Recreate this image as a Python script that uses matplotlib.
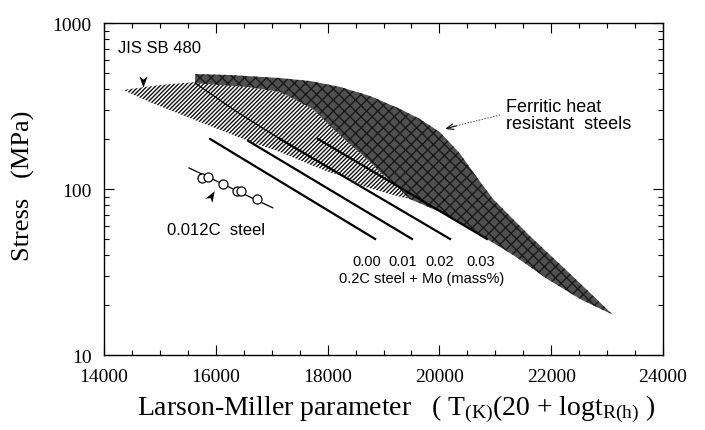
import numpy as np
import matplotlib
matplotlib.use('Agg')
import matplotlib.pyplot as plt
from matplotlib.markers import MarkerStyle
from matplotlib.path import Path
from matplotlib.transforms import Affine2D
from matplotlib.ticker import MultipleLocator, LogLocator, NullFormatter, FixedLocator, FixedFormatter

plt.rcParams['font.family'] = 'Liberation Serif'
plt.rcParams['mathtext.fontset'] = 'custom'
plt.rcParams['mathtext.rm'] = 'Liberation Serif'
plt.rcParams['mathtext.it'] = 'Liberation Serif:italic'
plt.rcParams['hatch.linewidth'] = 1.0

SANS = 'Liberation Sans'

# ferritic heat resistant steels band (outline, going round)
dark_x = [15630, 16250, 17150, 17690, 18220, 18760, 19300, 19650, 20010, 20370, 20690,
          20960, 21620, 22340, 23100,
          22520, 21930, 21320, 20730, 20100, 19470, 19240, 18940, 18700, 18350, 18040,
          17740, 17150, 16560, 15630]
dark_y = [493, 486, 466, 447, 412, 363, 303, 264, 220, 163, 115,
          87, 52, 30.8, 17.5,
          21.7, 28.7, 40, 52.9, 70.7, 87, 104, 126.5, 152, 192, 240,
          303, 384, 412, 435]

# JIS SB 480 hatched band
jis_x = [14340, 15000, 15630, 16560, 17150, 17740, 18040, 18350, 18700, 18940, 19240, 19470,
         19240, 18630, 18350, 18040, 17740, 17150, 16580, 15720, 14820]
jis_y = [395, 423, 441, 412, 384, 303, 240, 192, 152, 126.5, 104, 87,
         90.8, 104, 118, 126, 138, 167, 195, 253, 334]

# 0.2C steel + Mo master lines
mo_labels = ['0.00', '0.01', '0.02', '0.03']
mo_x0 = [15900, 16580, 17150, 17830]
mo_y0 = [200, 195, 200, 200]
mo_x1 = [18850, 19510, 20190, 20850]
mo_y1 = [50, 50, 50, 50]
mo_label_x = [18705, 19350, 20010, 20730]
mo_label_y = 36.8

# thin lead-in of 0.02 line
lead_x = [15630, 16380, 17150]
lead_y = [435, 291, 200]

# 0.012C steel
c_pts_x = [15750, 15860, 16130, 16380, 16450, 16740]
c_pts_y = [116.5, 118, 107, 97, 97, 87]
c_line_x = [15520, 17020]
c_line_y = [134, 77]

fig = plt.figure(figsize=(7.05, 4.31), dpi=100)
ax = fig.add_axes([0.1475, 0.174, 0.793, 0.7703])
ax.set_yscale('log')
ax.set_xlim(14000, 24000)
ax.set_ylim(10, 1000)

ax.fill(jis_x, jis_y, facecolor='white', edgecolor='#111111', hatch='////////', linewidth=0, zorder=2)
ax.fill(dark_x, dark_y, facecolor='#505050', edgecolor='#1a1a1a', hatch='xxx', linewidth=0, zorder=3)

ax.plot(lead_x, lead_y, color='black', lw=0.9, zorder=4)
for x0, y0, x1, y1 in zip(mo_x0, mo_y0, mo_x1, mo_y1):
    ax.plot([x0, x1], [y0, y1], color='black', lw=1.6, zorder=4)
for lab, lx in zip(mo_labels, mo_label_x):
    ax.text(lx, mo_label_y, lab, ha='center', va='center', fontsize=10.5, family=SANS)
ax.text(19690, 29.1, '0.2C steel + Mo (mass%)', ha='center', va='center', fontsize=10.5, family=SANS)

ax.plot(c_line_x, c_line_y, color='black', lw=0.9, zorder=4)
ax.plot(c_pts_x, c_pts_y, 'o', mfc='white', mec='black', ms=6.5, mew=0.9, zorder=5)
ax.text(15127, 57.4, '0.012C  steel', ha='left', va='center', fontsize=12, family=SANS)

ax.text(14250, 716, 'JIS SB 480', ha='left', va='center', fontsize=12, family=SANS)
ax.text(21190, 281, 'Ferritic heat\nresistant  steels', ha='left', va='center',
        fontsize=13, family=SANS, linespacing=1.0)

# notched arrowheads (pointing up before rotation)
arrow_path = Path([(0, 1), (0.65, -0.8), (0, -0.3), (-0.65, -0.8), (0, 1)],
                  [Path.MOVETO, Path.LINETO, Path.LINETO, Path.LINETO, Path.CLOSEPOLY])
for hx, hy, ang in [(14698, 447, 180), (15914, 91, -31)]:
    m = MarkerStyle(arrow_path, transform=Affine2D().rotate_deg(ang))
    ax.plot(hx, hy, marker=m, ms=9, color='black', mew=0, zorder=6)

ax.plot([21084, 20250], [279, 238], color='#444444', lw=0.7, ls=(0, (1.5, 1.5)))
ax.annotate('', xy=(20100, 230), xytext=(20300, 240),
            arrowprops=dict(arrowstyle='->,head_length=0.5,head_width=0.2', color='black',
                            lw=0.8, shrinkA=0, shrinkB=0))

# ticks
ax.xaxis.set_major_locator(MultipleLocator(2000))
ax.xaxis.set_minor_locator(MultipleLocator(500))
ax.yaxis.set_major_locator(FixedLocator([10, 100, 1000]))
ax.yaxis.set_major_formatter(FixedFormatter(['10', '100', '1000']))
ax.yaxis.set_minor_locator(LogLocator(base=10, subs=np.arange(2, 10)))
ax.yaxis.set_minor_formatter(NullFormatter())
ax.tick_params(which='both', direction='in', top=True, right=True, width=0.8, labelsize=14)
ax.tick_params(which='major', length=7, pad=9)
ax.tick_params(which='minor', length=3.5)
for s in ax.spines.values():
    s.set_linewidth(1.0)

fig.text(23 / 705, 1 - 186 / 431, 'Stress   (MPa)', rotation=90, ha='center', va='center', fontsize=19)
fig.text(396 / 705, 1 - 415 / 431,
         r'Larson-Miller parameter   ( T$_{\mathrm{(K)}}$(20 + logt$_{\mathrm{R(h)}}$ )',
         ha='center', va='baseline', fontsize=20)

fig.savefig('out.png', dpi=100)
